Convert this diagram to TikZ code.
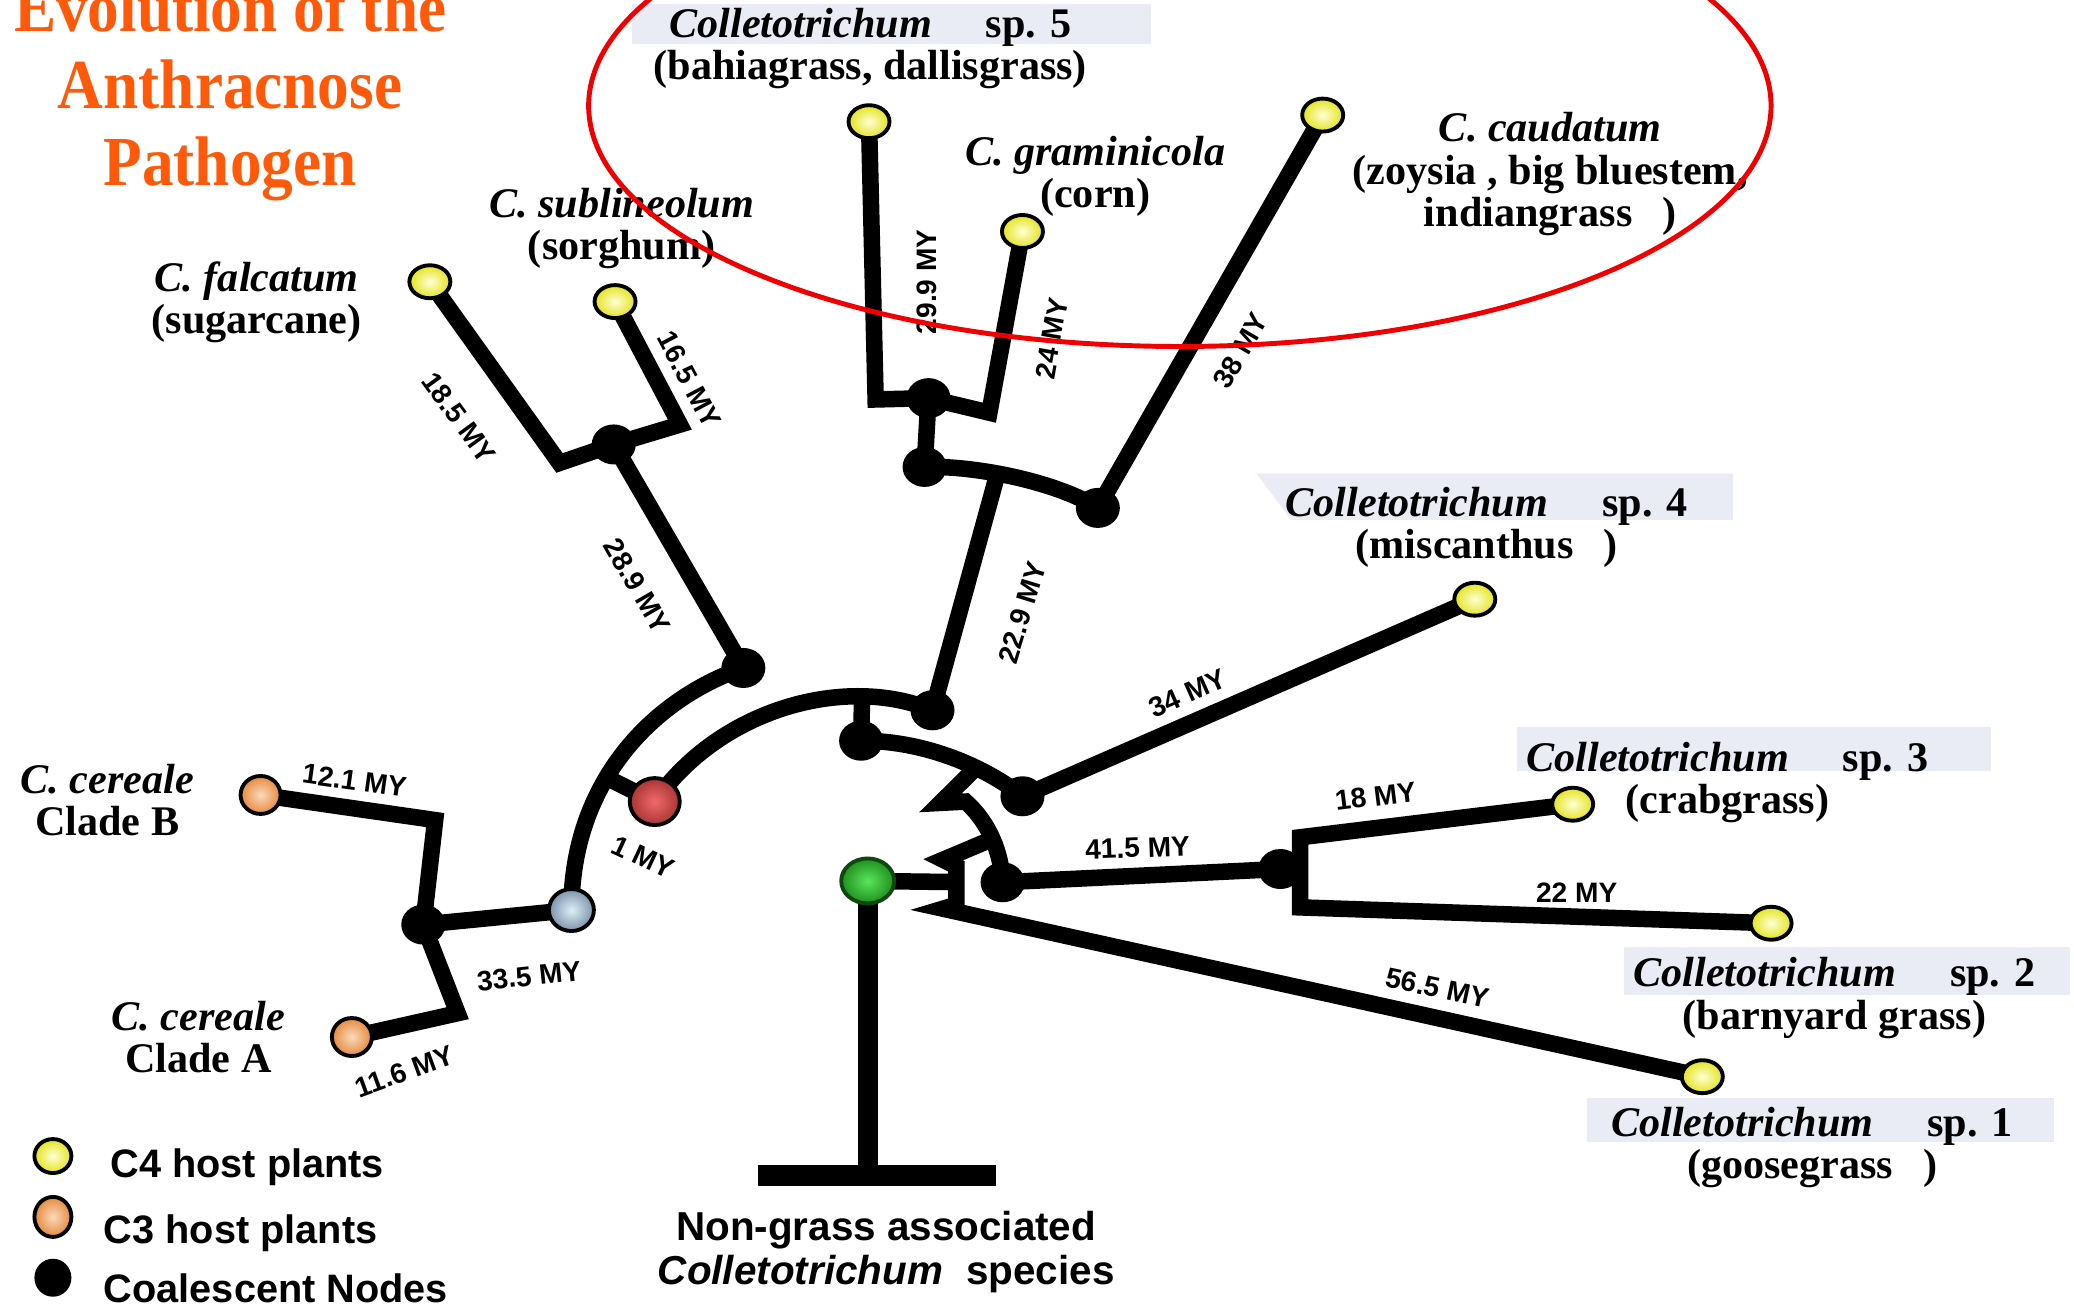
\documentclass[tikz,border=0pt]{standalone}
\usepackage{fontspec}
\setmainfont{Liberation Serif}
\setsansfont{Liberation Sans}
\newfontfamily\titlefont[FakeStretch=0.9]{Liberation Serif}
\usetikzlibrary{shapes.geometric,backgrounds}
\definecolor{c4hi}   {HTML}{FFFFD6}
\definecolor{c4lo}   {HTML}{E3E31E}
\definecolor{c3hi}   {HTML}{FBD9BC}
\definecolor{c3lo}   {HTML}{E58A3C}
\definecolor{redhi}  {HTML}{F26A6A}
\definecolor{redlo}  {HTML}{A83434}
\definecolor{bluehi} {HTML}{DCEEFA}
\definecolor{bluelo} {HTML}{7C93A8}
\definecolor{greenhi}{HTML}{5AE65A}
\definecolor{greenlo}{HTML}{1F8F1F}
\definecolor{hlbg}   {HTML}{E9ECF4}
\definecolor{orange1}{HTML}{FF5A0A}
\definecolor{ring1}  {HTML}{F00000}
\tikzset{
  branch/.style={draw=black, line width=4.7pt, line join=miter},
  stem/.style  ={draw=black, line width=5.6pt},
  tipc4/.style ={ellipse, draw=black, line width=1.1pt, inner sep=0pt,
                 inner color=c4hi, outer color=c4lo,
                 minimum width=0.41cm, minimum height=0.33cm},
  tipc3/.style ={ellipse, draw=black, line width=1.1pt, inner sep=0pt,
                 inner color=c3hi, outer color=c3lo,
                 minimum width=0.40cm, minimum height=0.38cm},
  coal/.style  ={ellipse, fill=black, inner sep=0pt,
                 minimum width=0.44cm, minimum height=0.40cm},
  anc/.style   ={ellipse, draw=black, line width=1.1pt, inner sep=0pt,
                 inner color=#1hi, outer color=#1lo,
                 minimum width=0.48cm, minimum height=0.45cm},
  taxon/.style ={font=\fontsize{12}{12}\selectfont\bfseries, align=center,
                 inner sep=0pt, anchor=base},
  age/.style   ={font=\sffamily\bfseries\fontsize{8}{8}\selectfont,
                 inner sep=0pt},
  legtxt/.style={font=\sffamily\bfseries\fontsize{11.3}{11.3}\selectfont,
                 inner sep=0pt, anchor=base west},
  ring/.style  ={draw=ring1, line width=1.4pt}
}

\begin{document}
\begin{tikzpicture}[x=0.013227cm, y=-0.013227cm]
\useasboundingbox (0,0) rectangle (1568,992);

% title (base = last line)
\node[font=\titlefont\bfseries\fontsize{20}{21.8}\selectfont, text=orange1,
      align=center, inner sep=0pt, anchor=base] (title) at (174,140)
  {Evolution of the\\Anthracnose\\Pathogen};

% tips
\node[tipc4] (fal)  at (325,213) {};
\node[tipc4] (sub)  at (465,228) {};
\node[tipc4] (sp5)  at (657,92)  {};
\node[tipc4] (gra)  at (773,175) {};
\node[tipc4] (cau)  at (1000,87) {};
\node[tipc4] (sp4)  at (1115,453) {};
\node[tipc4] (sp3)  at (1189,608) {};
\node[tipc4] (sp2)  at (1339,698) {};
\node[tipc4] (sp1)  at (1287,814) {};
\node[tipc3] (cerB) at (197,601) {};
\node[tipc3] (cerA) at (266,784) {};

% ancestors
\node[anc=blue, minimum width=0.45cm, minimum height=0.42cm] (ancBlue) at (432,688) {};
\node[anc=red, minimum width=0.50cm, minimum height=0.47cm]  (ancRed)  at (495,606) {};
\node[anc=green, draw=greenlo!50!black, minimum width=0.53cm, minimum height=0.45cm]
  (ancGreen) at (656,666) {};

% coalescent nodes
\node[coal] (nFS)   at (464,336) {};
\node[coal] (nSFS)  at (562,505) {};
\node[coal] (nGra)  at (702,301) {};
\node[coal] (nPan)  at (699,353) {};
\node[coal] (nCau)  at (830,384) {};
\node[coal] (nAnd)  at (705,537) {};
\node[coal] (nTop)  at (651,560) {};
\node[coal] (nMis)  at (773,602) {};
\node[coal] (nCrab) at (758,667) {};
\node[coal] (nBar)  at (968,657) {};
\node[coal] (nCer)  at (320,699) {};

\coordinate (base)  at (656,889);
\coordinate (baseL) at (573,889);
\coordinate (baseR) at (753,889);

\begin{scope}[on background layer]
% label highlights
\fill[hlbg] (478,3) rectangle (870,33);
\fill[hlbg] (950,358) -- (1310,358) -- (1310,393) -- (976,393) -- cycle;
\fill[hlbg] (1147,550) rectangle (1505,583);
\fill[hlbg] (1228,716) rectangle (1565,752);
\fill[hlbg] (1200,830) rectangle (1553,863);

% branches
\draw[branch] (fal.center) -- (423,350) -- (nFS.center) -- (514,321) -- (sub.center);
\draw[branch] (nFS.center) -- (nSFS.center);
\draw[branch] (nSFS.center) .. controls (495,528) and (432,590) ..
  coordinate[pos=0.6] (kRed) (ancBlue.center);
\draw[branch] (ancRed.center) -- (kRed);
\draw[branch] (ancRed.center) .. controls (545,535) and (640,510) ..
  coordinate[pos=0.75] (kTop) (nAnd.center);
\draw[branch] (kTop) -- (nTop.center);
\draw[branch] (nTop.center) .. controls (700,560) and (745,580) ..
  coordinate[pos=0.65] (kZ1) (nMis.center);
\draw[branch] (kZ1) -- (711,607) -- (730,606) .. controls (748,622) and (757,645) ..
  coordinate[pos=0.5] (kZ2) (nCrab.center);
\draw[branch] (kZ2) -- (713,650) -- (723,655) -- coordinate[pos=0.41] (kRoot) (723,684)
  -- (713,687) -- (sp1.center);
\draw[branch] (ancGreen.center) -- (kRoot);
\draw[branch] (nCrab.center) -- (nBar.center) -- (983,658);
\draw[branch] (sp3.center) -- (983,633) -- (983,686) -- (sp2.center);
\draw[branch] (nMis.center) -- (sp4.center);
\draw[branch] (nPan.center) .. controls (740,352) and (800,365) ..
  coordinate[pos=0.4] (kAnd) (nCau.center);
\draw[branch] (nAnd.center) -- (kAnd);
\draw[branch] (nPan.center) -- (nGra.center);
\draw[branch] (sp5.center) -- (662,302) -- (nGra.center) -- (748,312) -- (gra.center);
\draw[branch] (cau.center) -- (nCau.center);
\draw[branch] (cerB.center) -- (329,620) -- (nCer.center) -- (346,766) -- (cerA.center);
\draw[branch] (nCer.center) -- (ancBlue.center);
\draw[stem] (ancGreen.center) -- (base);
\draw[stem, line width=6pt] (baseL) -- (baseR);
\end{scope}

% taxa (base = last line)
\node[taxon] (tSp5) at (658,60)
  {\textit{Colletotrichum}\hspace{0.54cm}sp. 5\\(bahiagrass, dallisgrass)};
\node[taxon] (tGra) at (828,157) {\textit{C. graminicola}\\(corn)};
\node[taxon] (tCau) at (1172,171)
  {\textit{C. caudatum}\\(zoysia , big bluestem,\\indiangrass\hspace{0.3cm})};
\node[taxon] (tSub) at (470,196) {\textit{C. sublineolum}\\(sorghum)};
\node[taxon] (tFal) at (194,252) {\textit{C. falcatum}\\(sugarcane)};
\node[taxon] (tSp4) at (1124,422)
  {\textit{Colletotrichum}\hspace{0.54cm}sp. 4\\(miscanthus\hspace{0.3cm})};
\node[taxon] (tSp3) at (1306,615)
  {\textit{Colletotrichum}\hspace{0.54cm}sp. 3\\(crabgrass)};
\node[taxon] (tSp2) at (1387,778)
  {\textit{Colletotrichum}\hspace{0.54cm}sp. 2\\(barnyard grass)};
\node[taxon] (tSp1) at (1370,891)
  {\textit{Colletotrichum}\hspace{0.54cm}sp. 1\\(goosegrass\hspace{0.3cm})};
\node[taxon] (tCerB) at (81,632) {\textit{C. cereale}\\Clade B};
\node[taxon] (tCerA) at (150,811) {\textit{C. cereale}\\Clade A};

% branch ages
\node[age, rotate=-54] (a1) at (347,316) {18.5 MY};
\node[age, rotate=-62] (a2) at (521,287) {16.5 MY};
\node[age, rotate=-60] (a3) at (482,443) {28.9 MY};
\node[age, rotate=90]  (a4) at (701,213) {29.9 MY};
\node[age, rotate=80]  (a5) at (795,256) {24 MY};
\node[age, rotate=60]  (a6) at (938,265) {38 MY};
\node[age, rotate=73]  (a7) at (773,463) {22.9 MY};
\node[age, rotate=24]  (a8) at (898,524) {34 MY};
\node[age, rotate=7]   (a9) at (1040,602) {18 MY};
\node[age, rotate=2]   (a10) at (860,641) {41.5 MY};
\node[age]             (a11) at (1192,675) {22 MY};
\node[age, rotate=-12] (a12) at (1087,747) {56.5 MY};
\node[age, rotate=-8]  (a13) at (268,590) {12.1 MY};
\node[age, rotate=6]   (a14) at (400,738) {33.5 MY};
\node[age, rotate=20]  (a15) at (306,810) {11.6 MY};
\node[age, rotate=-25] (a16) at (486,648) {1 MY};

% outgroup
\node[font=\sffamily\bfseries\fontsize{11.5}{12.4}\selectfont, align=center,
      inner sep=0pt, anchor=base] (outgrp) at (670,971)
  {Non-grass associated\\\textit{Colletotrichum}\hspace{0.12cm} species};

% legend
\node[tipc4, minimum width=0.37cm, minimum height=0.34cm] (kC4) at (40,874) {};
\node[tipc3, minimum width=0.37cm, minimum height=0.40cm] (kC3) at (40,920) {};
\node[coal, minimum width=0.37cm, minimum height=0.38cm]  (kCo) at (40,966) {};
\node[legtxt] (lC4) at (83,890) {C4 host plants};
\node[legtxt] (lC3) at (78,940) {C3 host plants};
\node[legtxt] (lCo) at (78,985) {Coalescent Nodes};

% C4 grass clade
\draw[ring] (892,80) ellipse [x radius=5.913cm, y radius=2.407cm];
\end{tikzpicture}
\end{document}
